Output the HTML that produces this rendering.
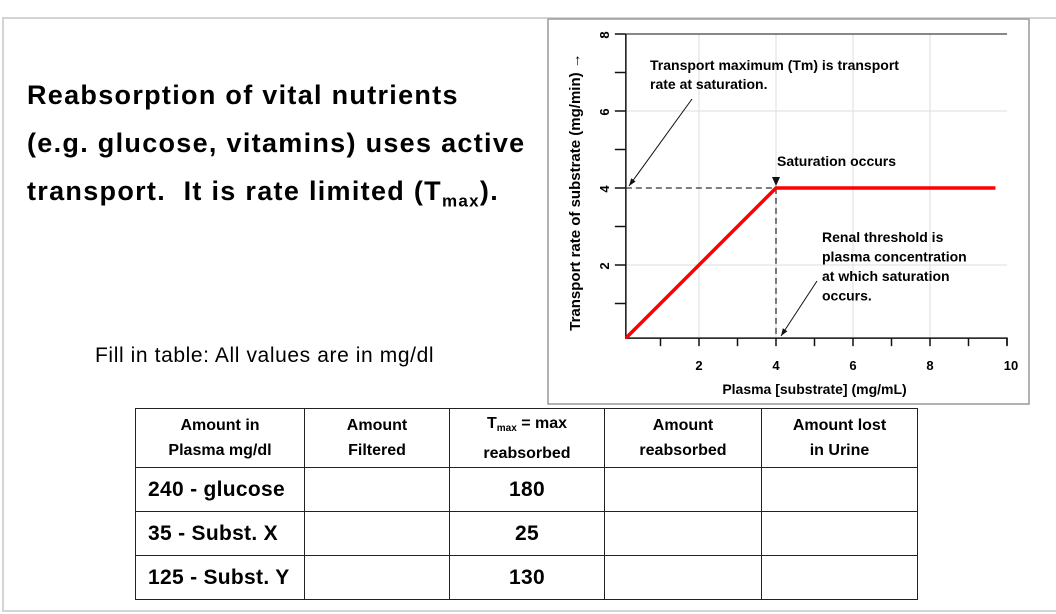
<!DOCTYPE html>
<html><head><meta charset="utf-8"><style>
html,body{margin:0;padding:0;background:#fff;width:1056px;height:614px;overflow:hidden;font-family:"Liberation Sans",sans-serif}
.t{position:absolute;font-weight:bold;font-size:27px;white-space:nowrap;letter-spacing:1.3px;color:#000}
table{position:absolute;left:135px;top:408px;border-collapse:collapse}
td{border:1.5px solid #222;text-align:center;padding:0;font-size:16px;letter-spacing:0}
td.h{height:58px;font-weight:bold;line-height:25px}
td.r{height:43px;font-weight:bold;font-size:21px;letter-spacing:0.3px}
</style></head><body>
<div style="position:absolute;left:2px;top:17px;width:1052px;height:591px;border:2px solid #d4d4d4;border-right:none"></div>
<div class="t" style="left:27px;top:80px">Reabsorption of vital nutrients</div>
<div class="t" style="left:27px;top:128px">(e.g. glucose, vitamins) uses active</div>
<div class="t" style="left:27px;top:176px">transport.&nbsp; It is rate limited (T<sub style="font-size:17px;line-height:0">max</sub>).</div>
<div style="position:absolute;left:95px;top:344px;font-size:21px;letter-spacing:0.6px;white-space:nowrap">Fill in table: All values are in mg/dl</div>

<svg id="chart" width="1056" height="614" style="position:absolute;left:0;top:0">
<rect x="548" y="19" width="481" height="385" fill="#fff" stroke="#999" stroke-width="1.5"/>
<g id="g"></g>
</svg>

<table>
<tr><td class="h" style="width:168px">Amount in<br>Plasma mg/dl</td><td class="h" style="width:144px">Amount<br>Filtered</td><td class="h" style="width:154px">T<span style="font-size:10px;vertical-align:-3px">max</span> = max<br>reabsorbed</td><td class="h" style="width:156px">Amount<br>reabsorbed</td><td class="h" style="width:155px">Amount lost<br>in Urine</td></tr>
<tr><td class="r" style="text-align:left;padding-left:12px">240 - glucose</td><td></td><td class="r">180</td><td></td><td></td></tr>
<tr><td class="r" style="text-align:left;padding-left:12px">35 - Subst. X</td><td></td><td class="r">25</td><td></td><td></td></tr>
<tr><td class="r" style="text-align:left;padding-left:12px">125 - Subst. Y</td><td></td><td class="r">130</td><td></td><td></td></tr>
</table>

<script>
const xTicks=[2,4,6,8,10];
const yTicks=[2,4,6,8];
const lineX=[0.1,4,9.7];
const lineY=[0.1,4,4];
const satX=4, satY=4;
const NS="http://www.w3.org/2000/svg";
const g=document.getElementById('g');
const X=v=>622+v*38.5, Y=v=>342-v*38.5;
function mk(t,a){const e=document.createElementNS(NS,t);for(const k in a)e.setAttribute(k,a[k]);g.appendChild(e);return e;}
for(const v of xTicks.slice(0,4)){const e=mk('line',{x1:X(v),x2:X(v),y1:Y(8),y2:Y(0.1),stroke:'#ddd','stroke-width':1});

}
for(const v of [2,6]){const e=mk('line',{x1:X(0.1),x2:X(10),y1:Y(v),y2:Y(v),stroke:'#ddd','stroke-width':1});

}
const axesEl=mk('path',{d:`M${X(0.1)} ${Y(8)} V${Y(0.1)} H${X(10)} V${Y(0.1)+7}`,fill:'none',stroke:'#111','stroke-width':1.5});


const topBorder=mk('line',{x1:X(0.1),x2:X(10),y1:Y(8),y2:Y(8),stroke:'#111','stroke-width':1});


for(let v=1;v<=10;v++){const e=mk('line',{x1:X(v),x2:X(v),y1:Y(0.1),y2:Y(0.1)+8,stroke:'#111','stroke-width':1.5});

}
for(let v=1;v<=8;v++){const e=mk('line',{x1:X(0.1)-11,x2:X(0.1),y1:Y(v),y2:Y(v),stroke:'#111','stroke-width':1.5});

}
for(const v of xTicks){const e=mk('text',{x:X(v)+(v==10?4:0),y:Y(0)+28,'text-anchor':'middle','font-size':13,'font-weight':'bold'});e.textContent=v;

}
for(const v of yTicks){const e=mk('text',{x:605,y:Y(v)+5,'text-anchor':'middle','font-size':13,'font-weight':'bold',transform:`rotate(-90 605 ${Y(v)+1})`});e.textContent=v;

}
const xt=mk('text',{x:X(5),y:394,'text-anchor':'middle','font-size':14,'font-weight':'bold'});xt.textContent='Plasma [substrate] (mg/mL)';


const yt=mk('text',{x:0,y:0,'text-anchor':'middle','font-size':15,'font-weight':'bold',transform:'translate(580 192) rotate(-90)'});yt.textContent='Transport rate of substrate (mg/min) \u2192';


const dash=mk('path',{d:`M${X(0.1)} ${Y(satY)} H${X(satX)} V${Y(0.1)}`,fill:'none',stroke:'#333','stroke-width':1.3,'stroke-dasharray':'6 4'});


const series=mk('polyline',{points:lineX.map((v,i)=>X(v)+','+Y(lineY[i])).join(' '),fill:'none',stroke:'#f00','stroke-width':3.5});


const tri=mk('path',{d:`M${X(satX)-4} ${Y(satY)-11} h8 l-4 9z`,fill:'#111'});


function txt(lines,x,y,name,lh){lines.forEach((s,i)=>{const e=mk('text',{x:x,y:y+i*lh,'font-size':14,'font-weight':'bold'});e.textContent=s;

});}
txt(['Transport maximum (Tm) is transport','rate at saturation.'],650,70,'tm-annotation',19);
txt(['Saturation occurs'],777,166,'saturation-annotation',19);
txt(['Renal threshold is','plasma concentration','at which saturation','occurs.'],822,242,'renal-threshold-annotation',19.5);
function arrow(x1,y1,x2,y2,name){const e=mk('line',{x1,y1,x2,y2,stroke:'#111','stroke-width':1});


const ang=Math.atan2(y2-y1,x2-x1),s=8;
const h=mk('path',{d:`M${x2} ${y2} L${x2-s*Math.cos(ang-0.35)} ${y2-s*Math.sin(ang-0.35)} L${x2-s*Math.cos(ang+0.35)} ${y2-s*Math.sin(ang+0.35)}Z`,fill:'#111'});

}
arrow(692,99,629,186,'tm-arrow');
arrow(817,281,781,336,'threshold-arrow');
</script>
</body></html>
